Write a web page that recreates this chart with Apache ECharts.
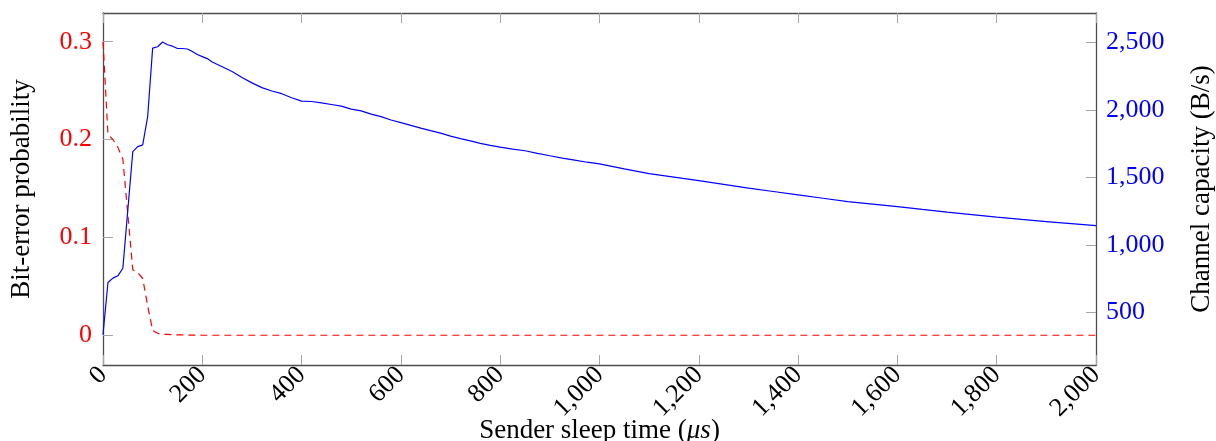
<!DOCTYPE html>
<html>
<head>
<meta charset="utf-8">
<script src="https://cdn.jsdelivr.net/npm/echarts@6/dist/echarts.min.js"></script>
<style>
  html, body { margin: 0; padding: 0; background: #fff; }
  #chart { width: 1216px; height: 441px; }
</style>
</head>
<body>
<div id="chart"></div>
<script>
// sender sleep time (µs)
const sleepTimes = [0, 10, 20, 30, 40, 60, 70, 80, 90, 100, 110, 120, 130, 140, 150, 160, 170, 180, 190, 200,
  210, 220, 240, 260, 280, 300, 320, 340, 360, 380, 400, 420, 440, 460, 480, 500, 520, 540, 560, 580, 600,
  620, 640, 660, 680, 700, 720, 740, 760, 780, 800, 825, 850, 875, 900, 925, 950, 975, 1000,
  1050, 1100, 1150, 1200, 1250, 1300, 1350, 1400, 1450, 1500, 1550, 1600, 1650, 1700, 1750, 1800, 1850, 1900, 1950, 2000];
// channel capacity (B/s)
const capacity = [335, 720, 753, 770, 826, 1691, 1728, 1741, 1951, 2458, 2468, 2503, 2483, 2472, 2455, 2455, 2451, 2432, 2410, 2395,
  2380, 2355, 2320, 2285, 2240, 2200, 2165, 2140, 2120, 2090, 2065, 2062, 2052, 2040, 2028, 2005, 1993, 1968, 1950, 1925, 1906,
  1885, 1865, 1846, 1828, 1805, 1787, 1770, 1752, 1737, 1724, 1709, 1697, 1678, 1660, 1643, 1628, 1612, 1600,
  1563, 1528, 1502, 1475, 1448, 1420, 1395, 1370, 1345, 1320, 1302, 1283, 1262, 1242, 1224, 1205, 1188, 1172, 1157, 1142];
// bit-error probability
const errorProb = [0.3, 0.205, 0.2, 0.192, 0.18, 0.067, 0.064, 0.058, 0.03, 0.005, 0.002, 0.001, 0.0008, 0.0006, 0.0004, 0.0003, 0.0002, 0.0001, 0.0001, 0,
  0, 0, 0, 0, 0, 0, 0, 0, 0, 0, 0, 0, 0, 0, 0, 0, 0, 0, 0, 0, 0,
  0, 0, 0, 0, 0, 0, 0, 0, 0, 0, 0, 0, 0, 0, 0, 0, 0, 0,
  0, 0, 0, 0, 0, 0, 0, 0, 0, 0, 0, 0, 0, 0, 0, 0, 0, 0, 0, 0];
const errorTicks = [0, 0.1, 0.2, 0.3];
const capacityTicks = [500, 1000, 1500, 2000, 2500];

const serif = 'Liberation Serif';
const frame = '#4d4d4d';
const tickColor = '#a6a6a6';

const chart = echarts.init(document.getElementById('chart'));
chart.setOption({
  animation: false,
  grid: { left: 103, right: 120, top: 13, bottom: 76, show: false, outerBoundsMode: 'none', containLabel: false },
  xAxis: [
    {
      type: 'value',
      min: 0,
      max: 2000,
      interval: 200,
      name: '{n|Sender sleep time (}{i|μs}{n|)}',
      nameLocation: 'middle',
      nameGap: 52,
      nameMoveOverlap: false,
      nameTextStyle: {
        rich: {
          n: { fontFamily: serif, fontSize: 27, color: '#000' },
          i: { fontFamily: serif, fontSize: 27, fontStyle: 'italic', color: '#000' }
        }
      },
      axisLine: { show: true, onZero: false, lineStyle: { color: frame, width: 1.3 } },
      axisTick: { show: true, inside: true, length: 10, lineStyle: { color: tickColor } },
      axisLabel: {
        rotate: 45,
        margin: 6,
        fontFamily: serif,
        fontSize: 26,
        color: '#000',
        formatter: (v) => v.toLocaleString('en-US')
      },
      splitLine: { show: false }
    },
    {
      type: 'value',
      position: 'top',
      min: 0,
      max: 2000,
      interval: 200,
      axisLine: { show: true, onZero: false, lineStyle: { color: frame, width: 1.3 } },
      axisTick: { show: true, inside: true, length: 10, lineStyle: { color: tickColor } },
      axisLabel: { show: false },
      splitLine: { show: false }
    }
  ],
  yAxis: [
    {
      type: 'value',
      position: 'left',
      min: -0.0304,
      max: 0.3293,
      name: 'Bit-error probability',
      nameLocation: 'middle',
      nameRotate: 90,
      nameGap: 68,
      nameMoveOverlap: false,
      nameTextStyle: { fontFamily: serif, fontSize: 27, color: '#000' },
      axisLine: { show: true, onZero: false, lineStyle: { color: frame, width: 1.3 } },
      axisTick: { show: true, inside: true, length: 10, customValues: errorTicks, lineStyle: { color: tickColor } },
      axisLabel: {
        customValues: errorTicks,
        margin: 11,
        fontFamily: serif,
        fontSize: 26,
        color: '#ff0000',
        formatter: (v) => String(v)
      },
      splitLine: { show: false }
    },
    {
      type: 'value',
      position: 'right',
      min: 109,
      max: 2718,
      name: 'Channel capacity (B/s)',
      nameLocation: 'middle',
      nameRotate: 90,
      nameGap: 92,
      nameMoveOverlap: false,
      nameTextStyle: { fontFamily: serif, fontSize: 27, color: '#000' },
      axisLine: { show: true, onZero: false, lineStyle: { color: frame, width: 1.3 } },
      axisTick: { show: true, inside: true, length: 10, customValues: capacityTicks, lineStyle: { color: tickColor } },
      axisLabel: {
        customValues: capacityTicks,
        margin: 10,
        fontFamily: serif,
        fontSize: 26,
        color: '#0000ff',
        formatter: (v) => v.toLocaleString('en-US')
      },
      splitLine: { show: false }
    }
  ],
  series: [
    {
      name: 'Bit-error probability',
      type: 'line',
      xAxisIndex: 0,
      yAxisIndex: 0,
      showSymbol: false,
      data: sleepTimes.map((t, i) => [t, errorProb[i]]),
      lineStyle: { color: '#ff0000', width: 1.2, type: [7, 5] },
      itemStyle: { color: '#ff0000' }
    },
    {
      name: 'Channel capacity',
      type: 'line',
      xAxisIndex: 0,
      yAxisIndex: 1,
      showSymbol: false,
      data: sleepTimes.map((t, i) => [t, capacity[i]]),
      lineStyle: { color: '#0000ff', width: 1.2 },
      itemStyle: { color: '#0000ff' }
    }
  ]
});
</script>
</body>
</html>
